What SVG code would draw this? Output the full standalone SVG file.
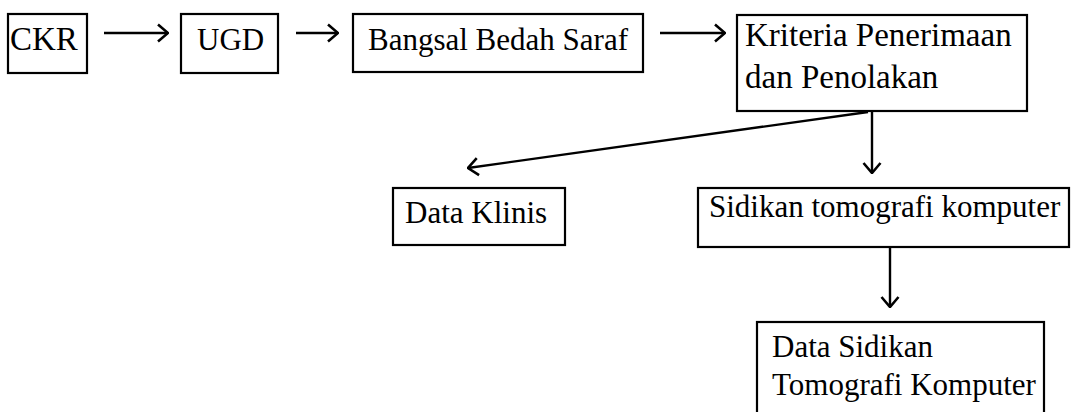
<svg xmlns="http://www.w3.org/2000/svg" width="1076" height="412" viewBox="0 0 1076 412">
  <style>
    .box { fill: #fff; stroke: #000; stroke-width: 2.2; }
    .edge { fill: none; stroke: #000; stroke-width: 2.4; }
    text { font-family: 'Liberation Serif', 'Times New Roman', serif; font-size: 31px; fill: #000; }
    .big { font-size: 33px; }
  </style>
  <defs>
    <marker id="chev" viewBox="0 0 12 20" refX="11" refY="10" markerWidth="12" markerHeight="20" markerUnits="userSpaceOnUse" orient="auto">
      <path d="M1,1.5 L11,10 L1,18.5" fill="none" stroke="#000" stroke-width="2.6"/>
    </marker>
  </defs>
  <rect width="1076" height="412" fill="#fff"/>

  <g id="connectors">
    <line class="edge" x1="104" y1="33" x2="168" y2="33" marker-end="url(#chev)"/>
    <line class="edge" x1="296" y1="33" x2="338" y2="33" marker-end="url(#chev)"/>
    <line class="edge" x1="660" y1="33" x2="725" y2="33" marker-end="url(#chev)"/>
    <line class="edge" x1="868" y1="112" x2="468" y2="168" marker-end="url(#chev)"/>
    <line class="edge" x1="872" y1="112" x2="872" y2="173" marker-end="url(#chev)"/>
    <line class="edge" x1="890" y1="247" x2="890" y2="307" marker-end="url(#chev)"/>
  </g>

  <g id="ckr">
    <rect class="box" x="8" y="14" width="79" height="59"/>
    <text class="big" x="10" y="50">CKR</text>
  </g>
  <g id="ugd">
    <rect class="box" x="181" y="14" width="97" height="59"/>
    <text x="197" y="50">UGD</text>
  </g>
  <g id="bangsal">
    <rect class="box" x="353" y="14" width="290" height="58"/>
    <text x="368" y="50">Bangsal Bedah Saraf</text>
  </g>
  <g id="kriteria">
    <rect class="box" x="737" y="15" width="290" height="96"/>
    <text class="big" x="745" y="46">Kriteria Penerimaan</text>
    <text class="big" x="745" y="88">dan Penolakan</text>
  </g>
  <g id="data-klinis">
    <rect class="box" x="393" y="188" width="172" height="57"/>
    <text x="405" y="223">Data Klinis</text>
  </g>
  <g id="sidikan">
    <rect class="box" x="698" y="188" width="371" height="59"/>
    <text x="709" y="217">Sidikan tomografi komputer</text>
  </g>
  <g id="data-sidikan">
    <rect class="box" x="757" y="322" width="287" height="95"/>
    <text x="772" y="357">Data Sidikan</text>
    <text x="772" y="395">Tomografi Komputer</text>
  </g>
</svg>
